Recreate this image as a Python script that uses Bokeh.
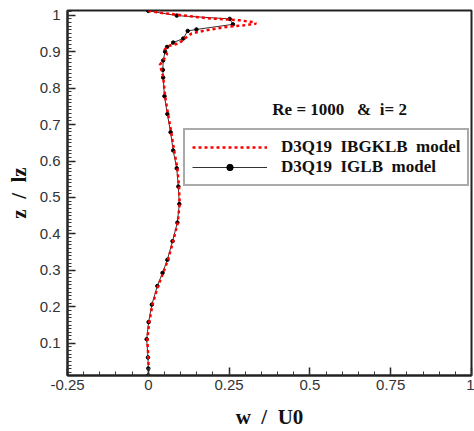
from bokeh.plotting import figure
from bokeh.models import (Range1d, FixedTicker, CustomJSTickFormatter, Legend,
                          LegendItem, Label)
from bokeh.embed import file_html
from bokeh.resources import INLINE

# --- data ---
# D3Q19 IGLB model (black solid line with markers)
w_iglb = [0.0, 0.088, 0.252, 0.262, 0.149, 0.122, 0.108, 0.077, 0.058, 0.052,
          0.046, 0.045, 0.046, 0.050, 0.059, 0.069, 0.077, 0.088, 0.093, 0.096,
          0.090, 0.075, 0.059, 0.044, 0.028, 0.011, 0.001, -0.005, -0.001, 0.0, 0.0]
z_iglb = [1.012, 0.999, 0.990, 0.975, 0.961, 0.957, 0.936, 0.925, 0.913, 0.900,
          0.876, 0.850, 0.829, 0.778, 0.729, 0.679, 0.629, 0.580, 0.530, 0.482,
          0.431, 0.380, 0.329, 0.293, 0.257, 0.206, 0.158, 0.111, 0.061, 0.031, 0.012]
# D3Q19 IBGKLB model (red dotted line)
w_ibgk = [0.0, 0.037, 0.180, 0.283, 0.324, 0.334, 0.293, 0.242, 0.180, 0.134,
          0.113, 0.095, 0.060, 0.050, 0.058, 0.045, 0.036, 0.042, 0.046, 0.052,
          0.061, 0.071, 0.080, 0.090, 0.095, 0.097, 0.091, 0.077, 0.061, 0.046,
          0.030, 0.013, 0.003, -0.003, 0.0, 0.001, 0.001]
z_ibgk = [1.012, 1.007, 0.992, 0.986, 0.981, 0.977, 0.972, 0.968, 0.959, 0.950,
          0.936, 0.923, 0.915, 0.905, 0.893, 0.875, 0.864, 0.845, 0.832, 0.778,
          0.729, 0.679, 0.629, 0.580, 0.530, 0.482, 0.431, 0.380, 0.329, 0.293,
          0.257, 0.206, 0.158, 0.111, 0.061, 0.031, 0.012]

x_major = [-0.25, 0.0, 0.25, 0.5, 0.75, 1.0]
x_minor = [round(-0.25 + 0.05 * i, 2) for i in range(26)]
y_major = [0.1, 0.2, 0.3, 0.4, 0.5, 0.6, 0.7, 0.8, 0.9, 1.0]
y_minor = [round(0.01 * i, 2) for i in range(2, 102)]

label_series1 = "D3Q19\u00a0 IBGKLB\u00a0 model"
label_series2 = "D3Q19\u00a0 IGLB\u00a0 model"
annotation = "Re = 1000 \u00a0 & \u00a0i= 2"
x_title = "w\u00a0 /\u00a0 U0"
y_title = "z\u00a0 /\u00a0 lz"

SERIF = "Liberation Serif"
SANS = "Liberation Sans"

p = figure(width=474, height=431, output_backend="svg", toolbar_location=None,
           x_range=Range1d(-0.25, 1.0), y_range=Range1d(0.0115, 1.013),
           min_border_left=67, min_border_right=3, min_border_top=10,
           min_border_bottom=51)
p.xgrid.visible = False
p.ygrid.visible = False
p.outline_line_color = "#222222"
p.outline_line_width = 2
p.background_fill_color = "white"
p.border_fill_color = "white"

fmt = CustomJSTickFormatter(code="return String(Math.round(tick*100)/100);")
for ax, maj, mnr in ((p.xaxis[0], x_major, x_minor), (p.yaxis[0], y_major, y_minor)):
    ax.ticker = FixedTicker(ticks=maj, minor_ticks=mnr)
    ax.formatter = fmt
    ax.axis_line_color = "#222222"
    ax.axis_line_width = 2
    ax.major_tick_in = 8
    ax.major_tick_out = 0
    ax.minor_tick_in = 4
    ax.minor_tick_out = 0
    ax.major_tick_line_width = 1.5
    ax.minor_tick_line_width = 1
    ax.major_tick_line_color = "#222222"
    ax.minor_tick_line_color = "#333333"
    ax.major_label_text_font = SANS
    ax.major_label_text_font_size = "15px"
    ax.major_label_text_color = "#333333"
    ax.axis_label_text_font = SERIF
    ax.axis_label_text_font_style = "bold"
    ax.axis_label_text_font_size = "21px"
    ax.axis_label_text_color = "#111111"

p.xaxis.axis_label = x_title
p.yaxis.axis_label = y_title
p.xaxis.major_label_standoff = 4
p.yaxis.major_label_standoff = 7
p.xaxis.axis_label_standoff = 12
p.yaxis.axis_label_standoff = 6

r_line = p.line(w_iglb, z_iglb, line_color="#333333", line_width=1)
r_mark = p.scatter(w_iglb, z_iglb, marker="circle", size=3.5,
                   fill_color="black", line_color="black")
r_red = p.line(w_ibgk, z_ibgk, line_color="#ff0000", line_width=2.5,
               line_dash="3 3")

legend = Legend(items=[LegendItem(label=label_series1, renderers=[r_red]),
                       LegendItem(label=label_series2, renderers=[r_line, r_mark])],
                location=(116, 189))
legend.label_text_font = SERIF
legend.label_text_font_style = "bold"
legend.label_text_font_size = "17px"
legend.label_text_color = "#111111"
legend.glyph_width = 75
legend.glyph_height = 16
legend.label_height = 16
legend.label_standoff = 14
legend.label_width = 176
legend.padding = 7
legend.spacing = 0
legend.margin = 0
legend.border_line_color = "#555555"
legend.border_line_width = 2
legend.background_fill_alpha = 1
p.add_layout(legend)

p.add_layout(Label(x=0.592, y=0.742, text=annotation, text_align="center",
                   text_baseline="middle", text_font=SERIF,
                   text_font_style="bold", text_font_size="17px",
                   text_color="#111111"))

open("out.html", "w").write(file_html(p, INLINE))
